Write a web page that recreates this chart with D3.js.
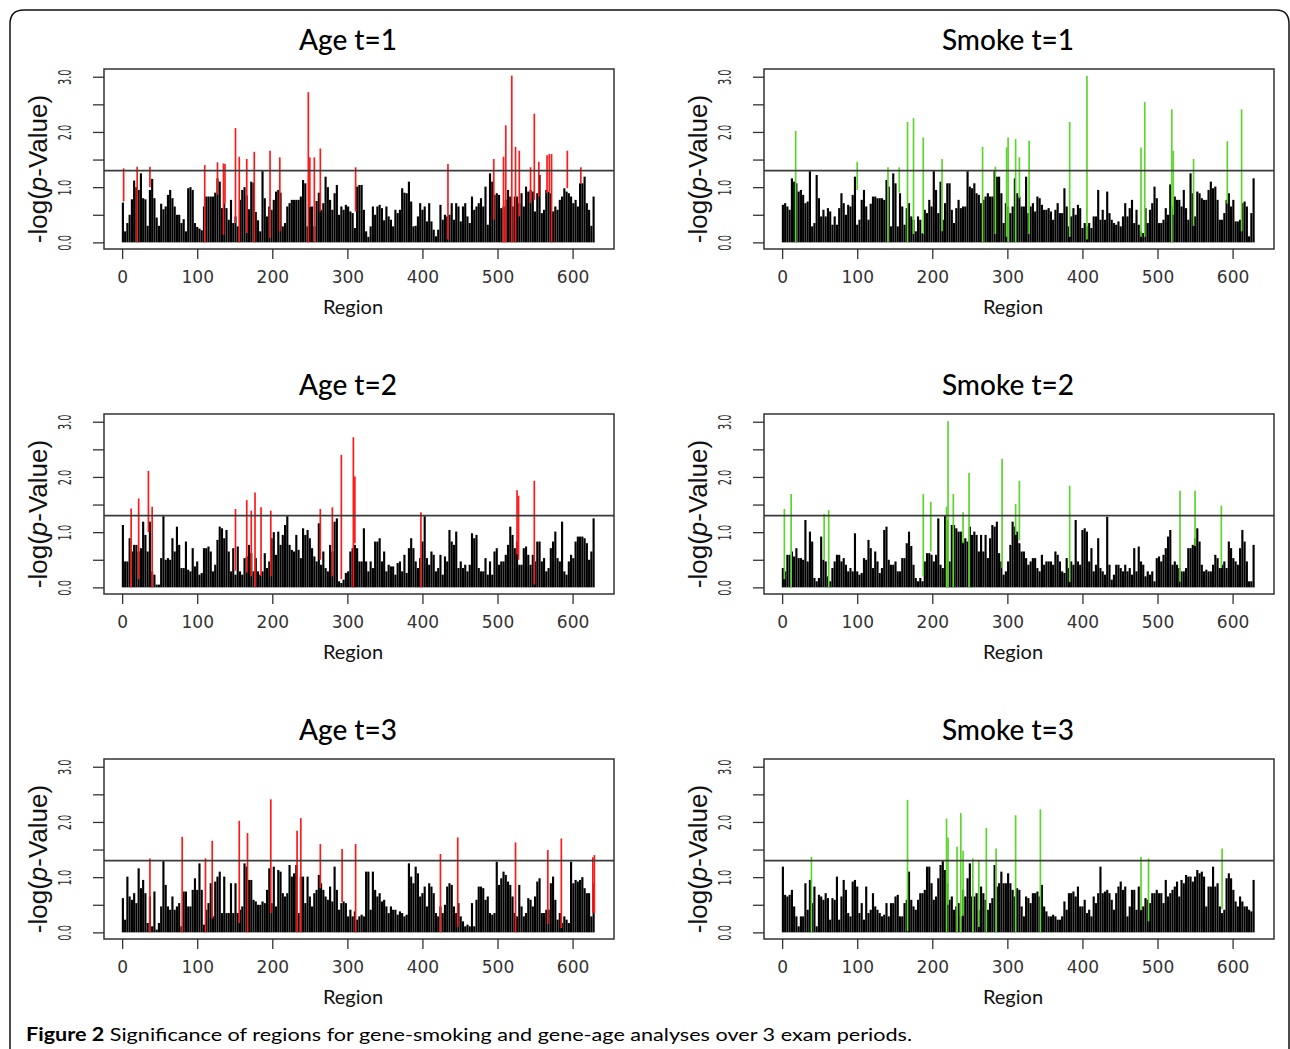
<!DOCTYPE html>
<html>
<head>
<meta charset="utf-8">
<script src="https://cdn.jsdelivr.net/npm/d3@7"></script>
<style>
  body { margin: 0; background: #fff; }
  svg { display: block; }
</style>
</head>
<body>
<div id="figure"></div>
<script>
// -log(p) per region, read every 3rd region (1, 4, 7, ... 628)
var ageT1 = [0.72,0.20,0.35,0.50,0.78,1.12,1.00,0.95,1.25,0.80,
  0.78,0.30,0.95,1.15,0.80,0.45,0.30,0.70,0.60,0.65,
  0.86,0.95,0.80,0.65,0.50,0.50,0.35,0.42,0.20,0.98,
  1.00,0.95,0.35,0.28,0.25,0.22,0.65,0.83,0.83,0.83,
  0.83,0.90,1.16,1.10,0.62,0.71,0.62,0.41,0.77,0.35,
  0.47,0.29,0.77,0.95,1.00,0.85,0.60,1.10,1.08,0.55,
  0.40,0.20,1.29,0.80,0.47,0.65,0.59,0.77,0.92,0.95,
  0.90,0.29,0.35,0.65,0.71,0.77,0.77,0.77,0.77,0.83,
  1.13,1.07,0.29,0.65,0.65,0.29,0.75,0.90,0.59,0.71,
  1.19,1.00,0.77,0.59,0.89,1.04,0.50,0.65,0.59,0.68,
  0.65,0.56,0.53,0.26,1.01,1.04,1.04,0.59,0.20,0.10,
  0.29,0.65,0.50,0.65,0.68,0.62,0.40,0.65,0.47,0.41,
  0.29,0.59,0.53,0.59,0.98,0.90,0.89,1.10,0.74,0.29,
  0.30,0.47,0.71,0.59,0.65,0.38,0.71,0.38,0.23,0.11,
  0.23,0.68,0.41,0.50,0.47,0.50,0.71,0.41,0.71,0.65,
  0.38,0.65,0.71,0.47,0.35,0.83,0.59,0.65,0.71,0.80,
  0.65,1.01,0.32,1.25,1.10,0.86,0.89,0.86,0.62,0.65,
  0.77,0.95,0.83,0.65,0.83,0.83,0.71,0.89,0.65,1.01,
  0.92,0.95,0.92,0.56,0.89,1.22,0.53,0.59,0.95,0.92,
  0.89,0.56,0.65,0.59,0.77,0.83,0.98,0.92,0.89,0.83,
  0.71,0.77,0.65,1.07,1.07,1.19,0.71,0.59,0.30,0.83];

var smokeT1 = [0.68,0.71,0.65,0.59,1.16,1.10,1.07,0.92,0.95,0.86,
  0.71,0.74,1.29,0.29,0.35,1.22,0.80,0.47,0.59,0.47,
  0.62,0.56,0.32,0.47,0.32,0.62,0.89,0.71,0.50,0.68,
  0.65,0.86,1.19,0.32,0.41,0.77,0.95,0.65,0.41,0.70,
  0.83,0.83,0.80,0.80,0.80,0.77,1.13,1.01,0.29,1.25,
  1.07,0.29,0.89,0.65,0.32,0.62,0.71,0.47,0.41,0.20,
  0.47,0.41,0.17,0.59,0.53,0.77,0.65,1.29,0.95,0.53,
  1.10,0.41,0.71,1.07,1.07,0.59,0.35,0.62,0.77,0.62,
  0.65,0.65,1.29,1.01,0.98,1.07,0.89,0.86,0.71,0.77,
  0.83,0.89,0.83,0.83,1.29,1.19,1.19,0.89,0.35,0.71,
  0.65,0.53,0.65,1.16,0.89,0.83,0.65,0.65,1.19,0.53,
  0.65,0.71,0.56,0.83,0.80,0.68,0.59,0.59,0.62,0.56,
  0.41,0.59,0.71,0.53,0.53,0.98,0.65,0.29,0.47,0.62,
  0.50,0.68,0.62,0.26,0.35,0.29,0.35,0.26,0.47,0.47,
  0.95,0.41,0.59,0.41,0.92,0.53,0.41,0.35,0.32,0.38,
  0.29,0.47,0.71,0.47,0.62,0.77,0.35,0.59,0.32,0.20,
  0.17,0.62,0.35,0.59,0.71,1.01,0.80,0.35,0.35,0.41,
  0.62,0.50,1.05,0.65,0.83,0.77,0.77,0.65,0.95,0.62,
  0.41,1.25,0.89,0.47,0.92,0.89,0.80,0.77,0.77,0.95,
  1.10,0.98,1.01,0.77,0.41,0.41,0.53,0.77,0.89,0.65,
  0.77,0.38,0.38,0.41,0.71,0.74,0.65,0.11,0.53,1.16];

var ageT2 = [1.13,0.47,0.47,0.89,0.65,0.77,0.77,0.65,0.71,1.19,
  0.95,0.65,1.19,0.29,0.23,0.05,0.05,0.53,1.29,0.50,
  0.53,0.50,0.89,0.65,1.10,0.77,0.35,0.35,0.83,0.32,
  0.29,0.71,0.38,0.47,0.23,0.26,0.71,0.71,0.74,0.65,
  0.29,0.41,0.86,1.10,1.07,0.89,1.04,0.65,0.29,0.71,
  0.23,0.74,0.29,0.23,0.53,0.56,0.77,0.62,0.29,0.53,
  0.29,0.23,0.29,0.62,0.35,0.47,0.89,1.00,0.59,1.01,
  0.77,0.95,1.13,1.29,0.77,0.68,0.65,0.95,0.68,0.53,
  1.07,0.95,1.04,0.89,0.71,0.56,0.47,1.16,0.41,0.65,
  0.35,0.29,0.77,0.65,1.19,1.25,0.11,0.08,0.14,0.26,
  0.29,0.65,0.71,0.77,0.71,0.47,0.47,1.07,0.47,0.29,
  0.47,0.35,0.83,0.83,0.89,0.47,0.65,0.29,0.41,0.38,
  0.38,0.23,0.44,0.47,0.29,0.59,0.26,0.71,0.89,0.71,
  0.47,0.35,0.53,0.83,1.29,0.53,0.41,0.65,0.59,0.29,
  0.35,0.59,0.23,0.56,0.47,1.04,0.83,0.77,1.01,0.35,
  0.47,0.35,0.41,0.29,0.41,0.98,0.89,0.95,0.35,0.29,
  0.29,0.53,0.23,0.47,0.23,0.65,0.71,0.41,0.47,0.47,
  0.59,0.77,1.10,0.95,0.71,0.83,0.41,0.41,0.71,0.74,
  0.59,0.41,0.59,0.47,0.83,0.83,0.47,0.53,0.29,0.35,
  0.71,0.83,1.01,0.53,0.47,1.19,0.29,0.23,0.47,0.59,
  0.53,0.83,0.92,0.92,0.92,0.89,0.80,0.50,0.65,1.25];

var smokeT2 = [0.35,0.29,0.59,0.59,0.65,0.56,0.71,0.53,0.53,0.50,
  1.22,0.47,1.01,0.83,0.17,0.11,0.17,0.92,0.50,0.47,
  0.20,0.11,0.35,0.47,0.59,0.59,0.47,0.53,0.41,0.29,
  0.35,0.29,0.98,0.29,0.23,0.26,0.53,0.50,0.86,0.71,
  0.35,0.65,0.47,0.26,0.35,1.04,1.10,0.50,0.41,0.41,
  0.47,0.29,0.29,0.53,0.53,0.80,1.01,0.75,0.41,0.17,
  0.11,0.17,0.11,0.47,0.62,0.62,0.59,0.47,0.59,1.25,
  0.41,0.35,1.30,1.22,0.47,1.13,1.13,1.07,1.01,1.01,
  0.83,0.89,0.83,1.10,0.95,1.01,0.95,0.65,0.95,0.65,
  0.95,0.53,0.89,1.13,1.10,1.19,0.62,0.47,0.23,0.29,
  0.47,0.77,1.19,1.10,1.01,0.80,0.65,0.65,0.53,0.41,
  0.47,0.53,0.53,0.35,0.29,0.59,0.41,0.47,0.47,0.47,
  0.41,0.65,0.59,0.47,0.29,0.26,0.53,0.35,0.47,0.41,
  1.22,0.47,0.41,1.04,1.07,1.01,0.47,0.71,0.29,0.41,
  0.89,0.35,0.29,0.23,1.28,0.41,0.14,0.23,0.41,0.41,
  0.35,0.29,0.41,0.29,0.35,0.23,0.71,0.29,0.74,0.47,
  0.41,0.20,0.29,0.23,0.29,0.11,0.53,0.56,0.47,0.59,
  0.71,0.92,1.04,0.41,0.47,0.41,0.35,0.29,0.29,0.35,
  0.71,0.71,0.77,0.89,1.07,0.83,0.41,0.29,0.32,0.29,
  0.29,0.41,0.59,0.53,0.35,0.41,0.47,0.35,0.83,0.71,
  0.53,0.47,0.41,0.71,1.04,0.83,0.47,0.11,0.11,0.77];

var ageT3 = [0.62,0.23,1.01,0.65,0.59,0.71,0.53,1.16,0.80,0.95,
  0.71,0.17,0.65,0.11,0.74,0.05,0.17,0.47,1.29,0.86,
  0.47,0.41,0.65,0.41,0.47,0.53,0.11,0.74,0.74,0.47,
  0.47,0.77,0.98,0.77,1.25,0.77,0.14,0.41,0.53,0.89,
  0.29,0.92,1.01,1.10,0.35,1.01,0.35,0.35,0.89,0.35,
  0.89,0.35,0.41,0.47,1.25,1.19,0.95,0.95,0.59,0.56,
  0.50,0.50,0.56,0.53,0.77,1.16,0.53,1.19,0.47,1.13,
  1.10,0.71,0.65,0.71,1.22,1.01,1.07,1.22,0.35,1.01,
  1.01,0.53,1.01,0.65,0.47,0.71,0.77,1.04,0.89,0.77,
  0.65,0.59,0.83,0.56,1.19,0.77,0.41,0.53,0.56,0.53,
  0.29,0.41,0.29,0.38,0.23,0.29,0.32,0.29,1.10,1.10,
  0.41,1.10,0.77,0.65,0.71,0.56,0.59,0.47,0.35,0.47,
  0.41,0.41,0.32,0.38,0.35,0.29,0.32,1.25,1.01,0.89,
  1.19,1.07,0.65,0.71,0.83,0.47,0.89,0.83,0.71,0.35,
  0.29,0.47,0.35,0.50,0.83,0.89,0.86,0.47,0.35,0.53,
  0.29,0.20,0.11,0.14,0.11,0.53,0.11,0.59,0.83,0.83,
  0.80,0.59,0.65,0.35,0.32,0.35,1.28,0.86,0.98,1.10,
  1.04,0.92,0.86,0.65,0.35,0.29,0.86,0.47,0.29,0.35,
  0.62,0.59,0.47,0.65,0.92,0.98,0.35,0.35,0.41,0.41,
  0.89,1.01,0.59,0.23,0.35,0.17,0.29,0.23,0.17,1.28,
  0.89,0.95,0.92,0.95,1.00,0.80,0.71,0.71,0.29,0.89];

var smokeT3 = [1.19,0.68,0.65,0.68,0.77,0.47,0.29,0.11,0.29,0.29,
  0.89,0.41,0.95,0.53,0.83,0.11,0.68,0.65,0.59,0.71,
  0.62,0.23,0.62,0.59,1.01,0.23,0.65,0.95,0.77,0.35,
  0.29,0.92,0.95,0.83,0.35,0.53,0.23,0.83,0.35,0.41,
  0.71,0.47,0.41,0.35,0.29,0.32,0.53,0.29,0.53,0.53,
  0.65,0.68,0.29,0.29,0.53,0.59,1.10,0.59,0.47,0.41,
  0.59,0.71,0.71,0.77,1.19,1.19,0.89,0.59,0.65,0.98,
  1.22,1.29,1.13,0.89,0.59,0.65,0.41,0.47,0.53,0.29,
  0.77,0.65,0.98,1.25,0.65,0.65,0.71,0.41,0.83,0.71,
  0.59,0.41,0.53,0.62,1.22,0.83,0.89,1.10,0.89,0.89,
  1.07,0.89,0.77,0.65,0.80,0.77,0.47,0.29,0.65,0.62,
  0.53,0.71,0.71,0.74,0.65,0.86,0.47,0.38,0.29,0.29,
  0.32,0.29,0.23,0.23,0.29,0.56,0.41,0.71,0.71,0.74,
  0.65,0.83,0.47,0.47,0.59,0.35,0.41,0.29,0.65,0.53,
  0.71,1.19,0.71,0.74,0.77,0.71,0.59,0.41,0.71,0.83,
  0.92,0.77,0.83,0.29,0.47,0.77,0.77,0.41,0.83,0.41,
  0.47,0.62,0.59,0.53,0.71,0.71,0.77,0.71,0.71,0.53,
  0.95,0.65,0.71,0.77,0.83,0.92,0.65,0.95,0.89,1.04,
  1.01,1.01,0.92,1.01,1.13,1.07,1.10,1.01,0.47,0.83,
  0.83,1.19,0.83,0.89,0.47,0.35,0.41,0.98,1.07,0.98,
  0.77,0.56,0.47,0.65,0.56,0.47,0.47,0.41,0.38,0.95];

// significant regions: [region, -log(p), lowest visible point of the coloured spike]
var ageT1Sig = [[2,1.34,0.74],[20,1.37,0],[37,1.37,1.0],[110,1.40,0],[127,1.45,0.86],
  [135,1.43,0.14],[137,1.42,0.71],[151,2.07,0.35],[156,1.55,0],[166,1.51,0.17],
  [176,1.64,0],[197,1.66,0.08],[210,1.54,0.2],[248,2.72,0],[250,1.54,0.65],
  [256,1.54,0],[264,1.70,0.56],[311,1.36,0.56],[434,1.42,0.05],[495,1.51,0.41],
  [508,1.55,0],[511,2.12,0],[519,3.02,0],[524,1.73,0],[529,1.66,0.47],
  [544,1.36,0.71],[549,2.33,0.77],[555,1.46,0.83],[566,1.58,0.89],[569,1.60,0.92],
  [572,1.60,0],[593,1.66,0.98],[611,1.36,1.07]];

var smokeT1Sig = [[18,2.02,0],[100,1.46,0.95],[141,1.36,0],[156,1.36,0.9],[167,2.18,0],
  [175,2.25,0.15],[188,1.90,0.15],[213,1.51,0.2],[267,1.73,0],[284,1.37,0.15],
  [299,1.72,0.1],[301,1.90,0],[311,1.87,0],[316,1.54,0.8],[329,1.84,0.15],
  [383,2.18,0.1],[406,3.02,0.05],[478,1.72,0.1],[483,2.54,0.1],[519,2.41,0],
  [521,1.66,0.5],[548,1.51,0.3],[593,1.83,0.7],[612,2.41,0.2]];

var ageT2Sig = [[12,1.43,0],[22,1.61,0.15],[35,2.11,1.0],[40,1.46,0],[151,1.42,0.3],
  [166,1.58,0.27],[172,1.39,0.2],[177,1.72,0],[185,1.45,0.2],[198,1.39,0.2],
  [264,1.42,0.5],[280,1.45,0.2],[292,2.40,0.15],[308,2.72,0],[310,2.01,0.8],
  [398,1.36,0],[526,1.76,0.6],[528,1.66,0.5],[549,1.93,0.05]];

var smokeT2Sig = [[3,1.42,0.15],[12,1.69,0],[56,1.33,0.5],[62,1.40,0],[188,1.69,0.2],
  [198,1.55,0.65],[219,1.46,0],[221,3.01,0],[228,1.69,0],[241,1.36,0.8],
  [249,2.07,0],[293,2.33,0.35],[311,1.51,0.95],[316,1.93,0.85],[383,1.84,0.1],
  [530,1.75,0.1],[550,1.75,0.75],[585,1.48,0.35]];

var ageT3Sig = [[37,1.34,0],[80,1.73,0],[111,1.34,0],[120,1.66,0.25],[156,2.02,0.17],
  [167,1.80,0],[198,2.41,0.35],[233,1.84,0],[238,2.07,0],[264,1.60,0.8],
  [293,1.51,0.55],[311,1.60,0],[424,1.42,0],[447,1.72,0.1],[524,1.63,0],
  [567,1.49,0.15],[585,1.70,0.08],[627,1.36,0.35],[629,1.40,0.35]];

var smokeT3Sig = [[39,1.37,0],[167,2.40,0.02],[219,2.06,0],[221,1.72,0.5],[233,1.55,0],
  [238,2.16,0],[241,1.48,0.3],[254,1.34,0],[262,1.31,0.1],[272,1.89,0],
  [285,1.52,0],[311,2.12,0],[344,2.23,0],[478,1.37,0.4],[488,1.34,0.2],
  [586,1.52,0.42]];

var titles = ["Age t=1", "Smoke t=1", "Age t=2", "Smoke t=2", "Age t=3", "Smoke t=3"];
var blackSeries = [ageT1, smokeT1, ageT2, smokeT2, ageT3, smokeT3];
var sigSeries = [ageT1Sig, smokeT1Sig, ageT2Sig, smokeT2Sig, ageT3Sig, smokeT3Sig];
var xTicks = [0, 100, 200, 300, 400, 500, 600];
var yTicks = [0, 0.5, 1, 1.5, 2, 2.5, 3];
var threshold = 1.3;   // -log10(0.05)
var nRegions = 630;
var sampleStep = 3;

var width = 1290, height = 1049;
var boxW = 510, boxH = 180;

var svg = d3.select("#figure")
  .append("svg")
    .attr("width", width)
    .attr("height", height);

// outer frame with rounded top corners
svg.append("path")
  .attr("d", "M10,1060 L10,24 Q10,10 24,10 L1276,10 Q1289,10 1289,24 L1289,1060")
  .attr("fill", "none")
  .attr("stroke", "#111")
  .attr("stroke-width", 1.5);

// R style 4% padding on the region range
var pad = (nRegions - 1) * 0.04;
var x = d3.scaleLinear()
  .domain([1 - pad, nRegions + pad])
  .range([0, boxW]);
var y = d3.scaleLinear()
  .domain([-0.12, 3.14])
  .range([boxH, 0]);

titles.forEach(function(title, k) {
  var col = k % 2;
  var row = Math.floor(k / 2);
  var left = 104 + col * 660;
  var top = 69 + row * 345;
  var color = col === 0 ? "#ff1a1a" : "#5cd62e";

  var g = svg.append("g")
    .attr("transform", "translate(" + left + "," + top + ")");

  // black spikes
  g.append("g")
    .selectAll("line")
    .data(blackSeries[k])
    .enter()
    .append("line")
      .attr("x1", function(d, i) { return x(1 + i * sampleStep); })
      .attr("x2", function(d, i) { return x(1 + i * sampleStep); })
      .attr("y1", y(0))
      .attr("y2", function(d) { return y(d); })
      .attr("stroke", "#000")
      .attr("stroke-width", 2.15);

  // significant spikes
  g.append("g")
    .selectAll("line")
    .data(sigSeries[k])
    .enter()
    .append("line")
      .attr("x1", function(d) { return x(d[0]); })
      .attr("x2", function(d) { return x(d[0]); })
      .attr("y1", function(d) { return y(d[2]); })
      .attr("y2", function(d) { return y(d[1]); })
      .attr("stroke", color)
      .attr("stroke-width", 1.7);

  // p = 0.05 line
  g.append("line")
    .attr("x1", 0)
    .attr("x2", boxW)
    .attr("y1", y(threshold))
    .attr("y2", y(threshold))
    .attr("stroke", "#3a3a3a")
    .attr("stroke-width", 1.6);

  // box
  g.append("rect")
    .attr("width", boxW)
    .attr("height", boxH)
    .attr("fill", "none")
    .attr("stroke", "#333")
    .attr("stroke-width", 1.5);

  // x axis
  var xAxis = g.append("g")
    .attr("transform", "translate(0," + boxH + ")")
    .call(d3.axisBottom(x).tickValues(xTicks).tickSize(10).tickSizeOuter(0));
  xAxis.select(".domain").remove();
  xAxis.selectAll(".tick line").attr("stroke", "#333").attr("stroke-width", 1.3);
  xAxis.selectAll(".tick text")
    .attr("y", 34)
    .attr("dy", null)
    .style("font-family", "'DejaVu Sans', sans-serif")
    .style("font-size", "17px")
    .attr("fill", "#333");

  // y axis
  var yAxis = g.append("g")
    .call(d3.axisLeft(y).tickValues(yTicks).tickSize(11).tickSizeOuter(0)
      .tickFormat(function(d) { return d % 1 === 0 ? d3.format(".1f")(d) : ""; }));
  yAxis.select(".domain").remove();
  yAxis.selectAll(".tick line").attr("stroke", "#333").attr("stroke-width", 1.3);
  yAxis.selectAll(".tick text")
    .attr("x", null)
    .attr("dy", null)
    .attr("text-anchor", "middle")
    .attr("transform", "translate(-33,0) rotate(-90) scale(0.58,1)")
    .style("font-family", "'DejaVu Sans', sans-serif")
    .style("font-size", "17px")
    .attr("fill", "#2a2a2a");

  // title
  g.append("text")
    .attr("x", 244)
    .attr("y", -19)
    .attr("text-anchor", "middle")
    .style("font-family", "Lato, sans-serif")
    .style("font-size", "28px")
    .style("font-weight", 500)
    .attr("fill", "#000")
    .text(title);

  // x label
  g.append("text")
    .attr("x", 249)
    .attr("y", 245)
    .attr("text-anchor", "middle")
    .style("font-family", "Lato, sans-serif")
    .style("font-size", "20px")
    .attr("fill", "#111")
    .text("Region");

  // y label
  var yl = g.append("text")
    .attr("transform", "translate(-57," + (boxH / 2 + 10) + ") rotate(-90)")
    .attr("text-anchor", "middle")
    .style("font-family", "'Liberation Sans', Arial, sans-serif")
    .style("font-size", "26px")
    .attr("fill", "#111");
  yl.append("tspan").text("-log(");
  yl.append("tspan").style("font-style", "italic").text("p");
  yl.append("tspan").text("-Value)");
});

// caption
var cap = svg.append("text")
  .attr("x", 26)
  .attr("y", 1041)
  .attr("textLength", 886)
  .attr("lengthAdjust", "spacingAndGlyphs")
  .style("font-family", "Lato, sans-serif")
  .style("font-size", "18px")
  .attr("fill", "#000");
cap.append("tspan").style("font-weight", "bold").text("Figure 2");
cap.append("tspan").text(" Significance of regions for gene-smoking and gene-age analyses over 3 exam periods.");
</script>
</body>
</html>
